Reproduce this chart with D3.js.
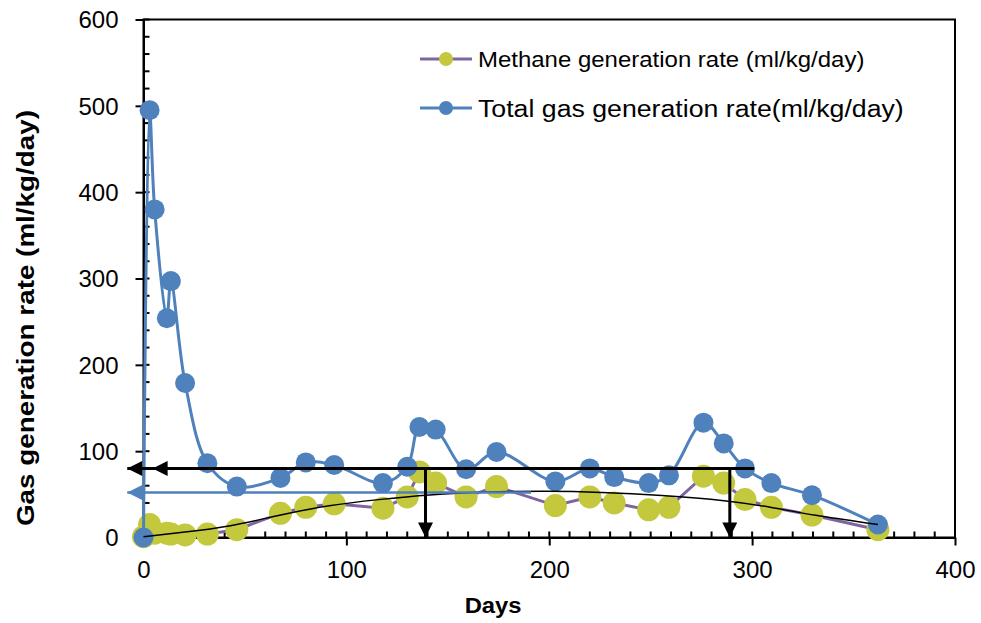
<!DOCTYPE html>
<html>
<head>
<meta charset="utf-8">
<script src="https://cdn.jsdelivr.net/npm/d3@7"></script>
<style>
  html, body { margin: 0; padding: 0; background: #fff; }
  svg { display: block; font-family: "Liberation Sans", Arial, sans-serif; }
</style>
</head>
<body>
<svg id="chart" width="981" height="623"></svg>
<script>
// Sampling days (shared by both series)
const days = [0, 3, 5.5, 11.5, 13.5, 20.5, 31.5, 46, 67.5, 80, 94, 118, 130, 136, 144, 159, 174, 203, 220, 232, 249, 259, 276, 286, 296.5, 309.5, 329.5, 362];

// Methane generation rate (ml/kg/day)
const methane = [1, 15, 5, 5, 4, 3, 4, 9, 28, 35, 39, 34, 47, 76, 63, 47, 59, 37, 47, 40, 32, 35, 71, 63, 44, 35, 26, 9];

// Total gas generation rate (ml/kg/day)
const totalGas = [0, 495, 380, 254, 297, 179, 86, 59, 69, 87, 84, 63, 82, 128, 125, 79, 99, 65, 80, 70, 63, 72, 133, 109, 80, 63, 49, 15];

// Trend curve through the methane rates
const trendDays = [0, 20, 42.5, 67, 91.5, 116, 140, 170, 200, 225, 255, 288, 310, 329, 362];
const trendVals = [1, 6, 12.5, 26, 37.7, 44, 49.5, 53, 54, 52.5, 49, 43, 35, 26, 15];

// Annotation arrows [day1, value1, day2, value2] (arrowhead at the second end)
const blackArrows = [
  [301, 80, 4.5, 80],
  [140, 80, -8, 80],
  [139, 80, 139, 0],
  [289, 80, 289, 0]
];
const blueArrows = [
  [191, 52, -8, 52]
];

// Axis ticks
const xTicks = [0, 100, 200, 300, 400];
const yTicks = [0, 100, 200, 300, 400, 500, 600];
const xMinor = d3.range(0, 401, 10);
const yMinor = d3.range(0, 601, 20);

const legendItems = [
  { label: "Methane generation rate (ml/kg/day)", line: "#8064a2", dot: "#c3c83c", size: 22 },
  { label: "Total gas generation rate(ml/kg/day)", line: "#4f81bd", dot: "#4f81bd", size: 24.5 }
];

const svg = d3.select("#chart");
const plotLeft = 143.5, plotRight = 955, plotTop = 19.5, plotBottom = 537.5;

const x = d3.scaleLinear().domain([0, 400]).range([plotLeft, plotRight]);
const y = d3.scaleLinear().domain([0, 600]).range([plotBottom, plotTop]);

// Frame
svg.append("rect")
  .attr("x", plotLeft).attr("y", plotTop)
  .attr("width", plotRight - plotLeft).attr("height", plotBottom - plotTop)
  .attr("fill", "none").attr("stroke", "#000").attr("stroke-width", 2);

// Minor ticks (drawn inside)
svg.append("g").selectAll("line").data(xMinor).join("line")
  .attr("x1", d => x(d)).attr("x2", d => x(d))
  .attr("y1", plotBottom).attr("y2", plotBottom - 6)
  .attr("stroke", "#000").attr("stroke-width", 2);
svg.append("g").selectAll("line").data(yMinor).join("line")
  .attr("x1", plotLeft).attr("x2", plotLeft + 6)
  .attr("y1", d => y(d)).attr("y2", d => y(d))
  .attr("stroke", "#000").attr("stroke-width", 2);

// Major axes
const xAxis = d3.axisBottom(x).tickValues(xTicks).tickSize(8).tickPadding(15).tickSizeOuter(0);
const yAxis = d3.axisLeft(y).tickValues(yTicks).tickSize(8).tickPadding(17).tickSizeOuter(0);

const gx = svg.append("g").attr("transform", `translate(0,${plotBottom})`).call(xAxis);
const gy = svg.append("g").attr("transform", `translate(${plotLeft},0)`).call(yAxis);
[gx, gy].forEach(g => {
  g.select(".domain").attr("stroke", "#000").attr("stroke-width", 2);
  g.selectAll(".tick line").attr("stroke", "#000").attr("stroke-width", 2);
  g.selectAll(".tick text")
    .attr("fill", "#000")
    .attr("font-size", 24)
    .attr("font-family", "Liberation Sans, Arial, sans-serif");
});
gx.selectAll(".tick text").attr("dy", "0.71em");
gy.selectAll(".tick text").attr("dy", "0.35em");

// Axis titles
svg.append("text")
  .attr("transform", `translate(493,613) scale(1.08,1)`)
  .attr("text-anchor", "middle")
  .attr("font-size", 22).attr("font-weight", "bold")
  .text("Days");
svg.append("text")
  .attr("transform", `translate(34,318) rotate(-90) scale(1.16,1)`)
  .attr("text-anchor", "middle")
  .attr("font-size", 24).attr("font-weight", "bold")
  .text("Gas generation rate (ml/kg/day)");

// Methane series: straight segments
const mPts = days.map((d, i) => [d, methane[i]]);
svg.append("path")
  .datum(mPts)
  .attr("fill", "none").attr("stroke", "#8064a2").attr("stroke-width", 3)
  .attr("d", d3.line().x(d => x(d[0])).y(d => y(d[1])));
svg.append("g").selectAll("circle").data(mPts).join("circle")
  .attr("cx", d => x(d[0])).attr("cy", d => y(d[1]))
  .attr("r", 11.5).attr("fill", "#c3c83c");

// Total gas series: smoothed
const tPts = days.map((d, i) => [d, totalGas[i]]);
svg.append("path")
  .datum(tPts)
  .attr("fill", "none").attr("stroke", "#4f81bd").attr("stroke-width", 3)
  .attr("d", d3.line().curve(d3.curveCatmullRom.alpha(0.5)).x(d => x(d[0])).y(d => y(d[1])));
svg.append("g").selectAll("circle").data(tPts).join("circle")
  .attr("cx", d => x(d[0])).attr("cy", d => y(d[1]))
  .attr("r", 10).attr("fill", "#4f81bd");

// Trend curve
svg.append("path")
  .datum(trendDays.map((d, i) => [d, trendVals[i]]))
  .attr("fill", "none").attr("stroke", "#000").attr("stroke-width", 1.5)
  .attr("d", d3.line().curve(d3.curveBasis).x(d => x(d[0])).y(d => y(d[1])));

// Arrows
const defs = svg.append("defs");
function marker(id, color) {
  defs.append("marker")
    .attr("id", id).attr("viewBox", "0 0 10 10")
    .attr("refX", 10).attr("refY", 5)
    .attr("markerUnits", "userSpaceOnUse")
    .attr("markerWidth", 16).attr("markerHeight", 15)
    .attr("orient", "auto")
    .append("path").attr("d", "M0,0L10,5L0,10Z").attr("fill", color);
}
marker("headBlack", "#000");
marker("headBlue", "#4f81bd");

svg.append("g").selectAll("line").data(blueArrows).join("line")
  .attr("x1", d => x(d[0])).attr("y1", d => y(d[1]))
  .attr("x2", d => x(d[2])).attr("y2", d => y(d[3]))
  .attr("stroke", "#4f81bd").attr("stroke-width", 2.5)
  .attr("marker-end", "url(#headBlue)");
svg.append("g").selectAll("line").data(blackArrows).join("line")
  .attr("x1", d => x(d[0])).attr("y1", d => y(d[1]))
  .attr("x2", d => x(d[2])).attr("y2", d => y(d[3]))
  .attr("stroke", "#000").attr("stroke-width", 3)
  .attr("marker-end", "url(#headBlack)");

// Legend
const legend = svg.append("g").selectAll("g").data(legendItems).join("g")
  .attr("transform", (d, i) => `translate(0,${i === 0 ? 59 : 108})`);
legend.append("line")
  .attr("x1", 420).attr("x2", 472).attr("y1", 0).attr("y2", 0)
  .attr("stroke", d => d.line).attr("stroke-width", 3);
legend.append("circle").attr("cx", 446).attr("cy", 0).attr("r", 7).attr("fill", d => d.dot);
legend.append("text")
  .attr("transform", "translate(478,0) scale(1.09,1)")
  .attr("dy", "0.35em")
  .attr("font-size", d => d.size)
  .attr("fill", "#000")
  .text(d => d.label);
</script>
</body>
</html>
